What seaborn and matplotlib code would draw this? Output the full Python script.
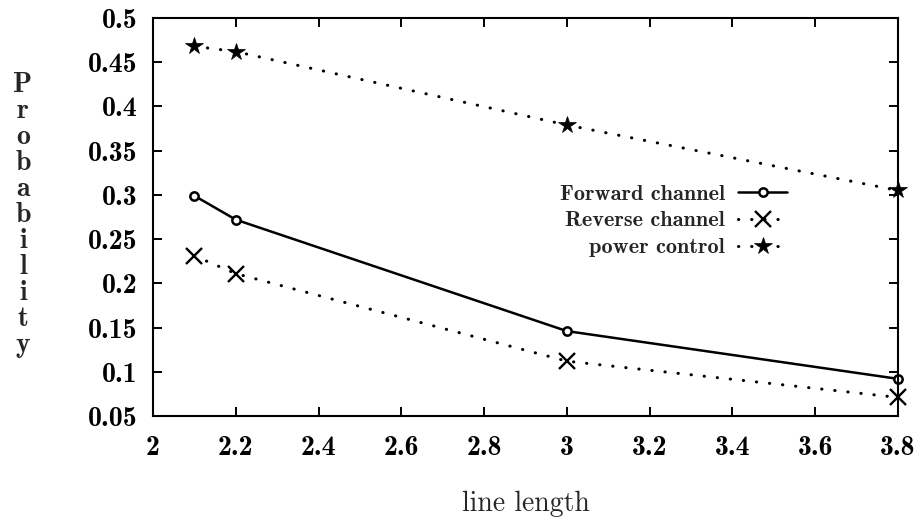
import matplotlib
matplotlib.use("Agg")
import matplotlib.pyplot as plt
import seaborn as sns
import numpy as np

line_length = [2.1, 2.2, 3.0, 3.8]
forward = [0.299, 0.272, 0.146, 0.092]
reverse = [0.231, 0.211, 0.112, 0.071]
power = [0.468, 0.462, 0.379, 0.305]
labels = ["Forward channel", "Reverse channel", "power control"]

xticks = [2, 2.2, 2.4, 2.6, 2.8, 3, 3.2, 3.4, 3.6, 3.8]
yticks = [0.05, 0.1, 0.15, 0.2, 0.25, 0.3, 0.35, 0.4, 0.45, 0.5]

sns.set_theme(style="ticks")
plt.rcParams['font.family'] = ['cmb10', 'DejaVu Serif']

fig = plt.figure(figsize=(9.19, 5.2), dpi=100)
ax = fig.add_axes([153/919, 1-416/520, (898-153)/919, (416-18)/520])

dotted = (0, (0.1, 4.2))
sns.lineplot(x=line_length, y=forward, ax=ax, color="black", lw=1.8,
             marker="o", markersize=6, markerfacecolor="white",
             markeredgecolor="black", markeredgewidth=1.8, label=labels[0],
             clip_on=False)
sns.lineplot(x=line_length, y=reverse, ax=ax, color="black", lw=2.2,
             linestyle=dotted, dash_capstyle="round",
             marker="x", markersize=11, markeredgecolor="black",
             markeredgewidth=1.7, label=labels[1], clip_on=False)
sns.lineplot(x=line_length, y=power, ax=ax, color="black", lw=2.2,
             linestyle=dotted, dash_capstyle="round",
             marker="*", markersize=13, markeredgecolor="black",
             markerfacecolor="black", markeredgewidth=0.5, label=labels[2],
             clip_on=False)

ax.set_xlim(2, 3.8)
ax.set_ylim(0.05, 0.5)
ax.set_xticks(xticks)
ax.set_xticklabels([f"{v:g}" for v in xticks])
ax.set_yticks(yticks)
ax.set_yticklabels([f"{v:g}" for v in yticks])
ax.tick_params(direction="in", top=True, right=True, length=6.5, width=1.4,
               labelsize=20, colors="black")
ax.tick_params(axis="x", pad=14)
ax.tick_params(axis="y", pad=11)
for s in ax.spines.values():
    s.set_linewidth(1.5)
    s.set_color("black")
    s.set_visible(True)

ax.set_xlabel("line length", fontfamily="cmr10", fontsize=20, labelpad=21)
ax.set_ylabel("\n".join("Probability"), rotation=0, fontsize=20,
              linespacing=1.0, va="center", ha="center")
ax.yaxis.set_label_coords((23-153)/745, (416-215)/398)

leg = ax.legend(loc="upper right", bbox_to_anchor=((787-153)/745, (416-184)/398),
                frameon=False, markerfirst=False, fontsize=16, handlelength=2.2,
                handletextpad=0.6, labelspacing=0.33, borderpad=0, borderaxespad=0)
for t in leg.get_texts():
    t.set_fontfamily("cmb10")

fig.savefig("out.png", dpi=100)
